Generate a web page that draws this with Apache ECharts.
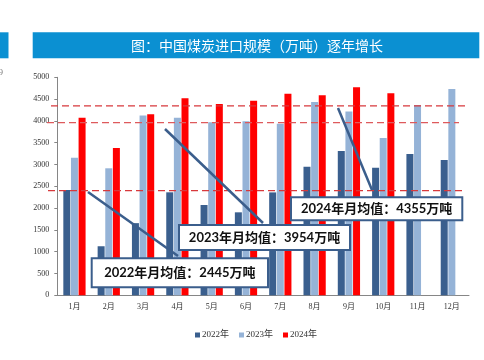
<!DOCTYPE html>
<html><head><meta charset="utf-8">
<script src="https://cdn.jsdelivr.net/npm/echarts@6/dist/echarts.min.js"></script>
<style>html,body{margin:0;padding:0;background:#fff}#c{width:484px;height:360px}</style>
</head><body><div id="c"></div>
<script>
const categories = ['1月','2月','3月','4月','5月','6月','7月','8月','9月','10月','11月','12月'];
const seriesNames = ['2022年','2023年','2024年'];
const v2022 = [2415,1125,1655,2362,2071,1903,2360,2950,3310,2928,3242,3104];
const v2023 = [3155,2913,4121,4075,3968,3991,3937,4434,4213,3609,4365,4732];
const v2024 = [4075,3379,4151,4518,4388,4465,4625,4587,4771,4633,null,null];
const avgValues = [2445,3954,4355];
const avgLineLevels = [2400,3960,4345];
const avgYears = ['2022','2023','2024'];
const yMin = 0, yMax = 5000, yInterval = 500;
const title = '图：中国煤炭进口规模（万吨）逐年增长';

const colors = ['#3A5F8E','#95B3D7','#FF0000'];
const serif = '"Liberation Serif","Noto Sans CJK SC",serif';
const chart = echarts.init(document.getElementById('c'));
chart.setOption({
  animation:false,
  grid:{left:57.3,right:15,top:77.3,bottom:64.7,containLabel:false},
  legend:{data:seriesNames,left:190,top:325.5,icon:'rect',itemWidth:5,itemHeight:5,itemGap:10,
    textStyle:{fontFamily:serif,fontSize:9,color:'#333',padding:[0,0,0,-3]}},
  xAxis:{type:'category',data:categories,
    axisLine:{lineStyle:{color:'#868686'}},
    axisTick:{length:4,lineStyle:{color:'#868686'}},
    axisLabel:{fontFamily:serif,fontSize:8,color:'#333',margin:8}},
  yAxis:{type:'value',min:yMin,max:yMax,interval:yInterval,
    splitLine:{show:false},
    axisLine:{show:true,lineStyle:{color:'#868686'}},
    axisTick:{show:true,length:3,lineStyle:{color:'#868686'}},
    axisLabel:{fontFamily:serif,fontSize:8,color:'#333',margin:8,formatter:v=>String(v)}},
  series:[
    {name:seriesNames[0],type:'bar',data:v2022,barWidth:7,barGap:'9%',itemStyle:{color:colors[0]}},
    {name:seriesNames[1],type:'bar',data:v2023,barWidth:7,barGap:'9%',itemStyle:{color:colors[1]}},
    {name:seriesNames[2],type:'bar',data:v2024,barWidth:7,barGap:'9%',itemStyle:{color:colors[2]}}
  ]
});

const lineColors = ['#D8393C','#DE5A5C','#D8393C'];
const lineX = [[48,463],[47,459],[51,465]];
const g = [];
g.push({type:'rect',shape:{x:0,y:32.3,width:8.5,height:26},style:{fill:'#0B90D2'}});
g.push({type:'rect',shape:{x:32.7,y:32.3,width:446.6,height:26},style:{fill:'#0B90D2'}});
g.push({type:'text',x:257,y:45.5,style:{text:title,fill:'#fff',font:'14px "Noto Sans CJK SC"',align:'center',verticalAlign:'middle'}});
g.push({type:'text',x:3,y:73,style:{text:'9',fill:'#777',font:'9px "Liberation Serif"',align:'right',verticalAlign:'middle'}});
avgLineLevels.forEach((v,i)=>{
  const py = chart.convertToPixel({yAxisIndex:0}, v);
  g.push({type:'line',z:10,shape:{x1:lineX[i][0],y1:py,x2:lineX[i][1],y2:py},
    style:{stroke:lineColors[i],lineWidth:1.3,lineDash:[7,4]}});
});
const conn = [[88,192,178,256],[165,129,263,223],[338,108,372,190]];
conn.forEach(c=>g.push({type:'line',z:11,shape:{x1:c[0],y1:c[1],x2:c[2],y2:c[3]},style:{stroke:'#3B5E8C',lineWidth:2.5}}));
const boxes = [[91.7,258.3,176.3,29],[179,225,171,25],[291,197.3,171.3,23]];
boxes.forEach((b,i)=>{
  g.push({type:'rect',z:12,shape:{x:b[0],y:b[1],width:b[2],height:b[3]},style:{fill:'#fff',stroke:'#3B5E8C',lineWidth:2}});
  g.push({type:'text',z:13,x:b[0]+b[2]/2,y:b[1]+b[3]/2+0.5,style:{text:avgYears[i]+'年月均值：'+avgValues[i]+'万吨',fill:'#111',
    font:'bold 13px Lato,"Noto Sans CJK SC"',align:'center',verticalAlign:'middle'}});
});
chart.setOption({graphic:g});
</script></body></html>
